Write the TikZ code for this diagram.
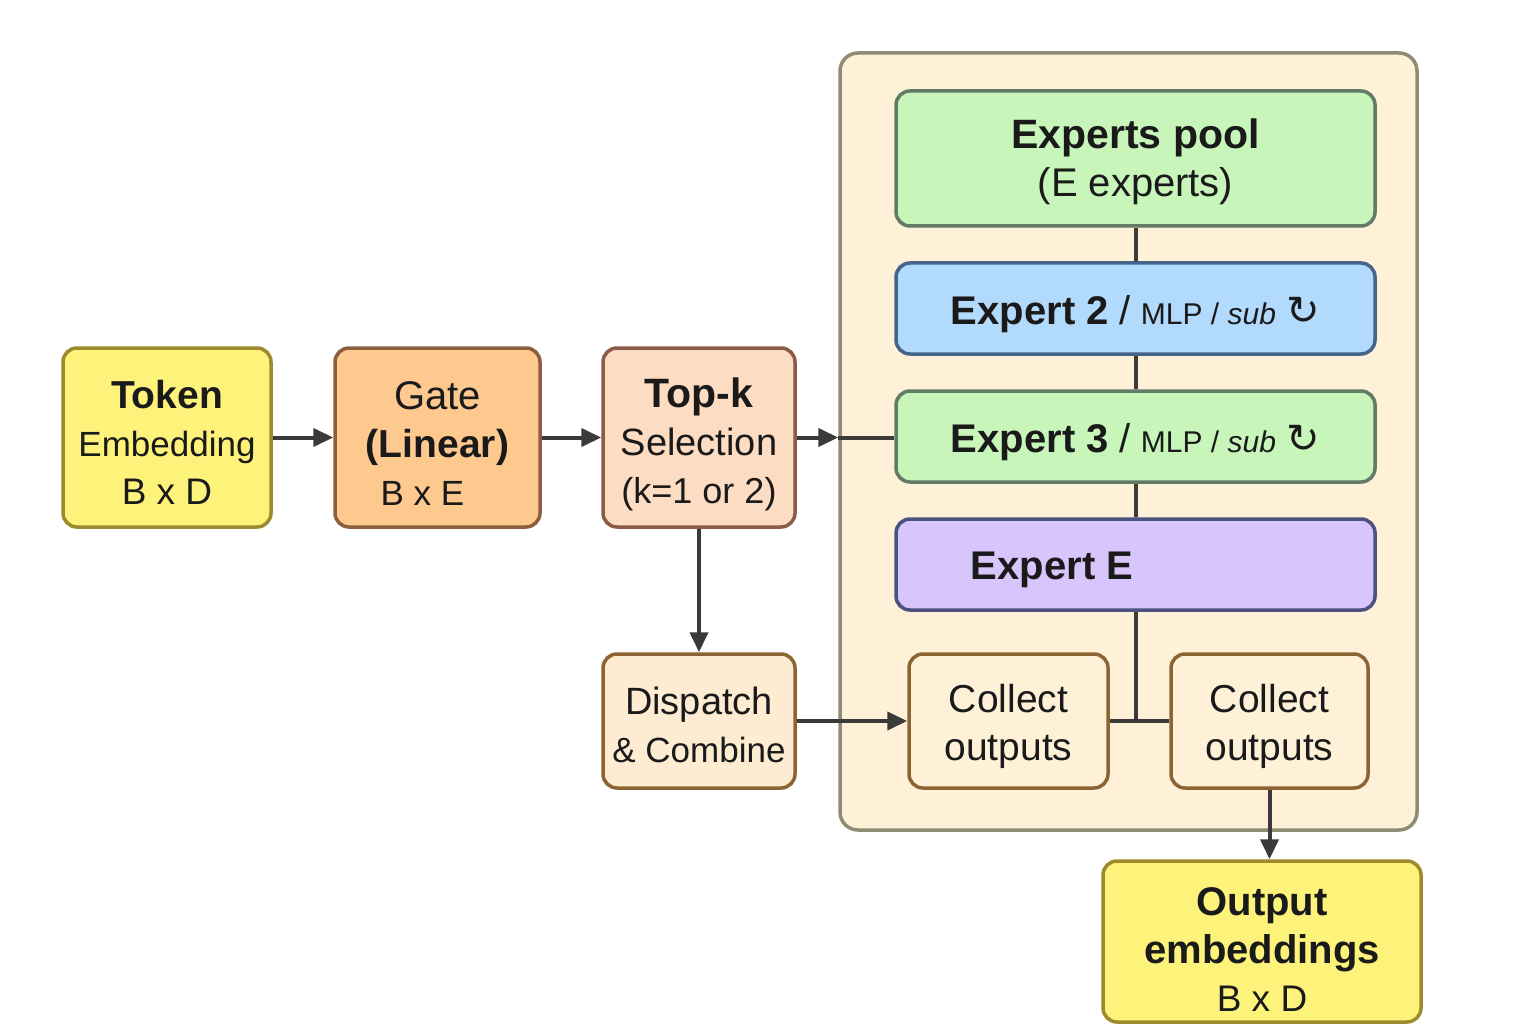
\documentclass[tikz,border=0pt]{standalone}
\usepackage{fontspec}
\setmainfont{Liberation Sans}
\newfontfamily\glyphfont{DejaVu Sans}
\usetikzlibrary{arrows.meta}
\definecolor{txt}{HTML}{1A1A1A}
\definecolor{linec}{HTML}{3A3A3A}
\definecolor{yelF}{HTML}{FEF37A}
\definecolor{yelD}{HTML}{9D8A2C}
\definecolor{oraF}{HTML}{FDC98F}
\definecolor{oraD}{HTML}{8C5E3E}
\definecolor{pchF}{HTML}{FCDCC3}
\definecolor{pchD}{HTML}{8C5A48}
\definecolor{crmF}{HTML}{FDEBD2}
\definecolor{crmD}{HTML}{8C6433}
\definecolor{conF}{HTML}{FEF1D8}
\definecolor{conD}{HTML}{8F8C74}
\definecolor{grnF}{HTML}{C7F5BA}
\definecolor{grnD}{HTML}{617B64}
\definecolor{bluF}{HTML}{B2DAFD}
\definecolor{bluD}{HTML}{46648A}
\definecolor{purF}{HTML}{D8C5FC}
\definecolor{purD}{HTML}{4C5280}
\newcommand{\lift}[1]{\rule{0pt}{#1}}
\begin{document}
\begin{tikzpicture}[x=1pt,y=-1pt,
  box/.style={draw, line width=3.5pt, rounded corners=14pt, inner sep=0pt, align=center, text=txt,
    font={\fontsize{38}{48}\selectfont}},
  wire/.style={draw=linec, line width=4pt},
  arr/.style={wire, -{Triangle[length=20pt,width=18pt]}}]
\useasboundingbox (0,0) rectangle (1536,1024);
\fill[white] (0,0) rectangle (1536,1024);

% container
\node[draw=conD, fill=conF, line width=3.5pt, rounded corners=18pt, minimum width=577pt, minimum height=777pt, inner sep=0pt] (cont) at (1128.5,441.5) {};

% left chain
\node[box, fill=yelF, draw=yelD, minimum width=208pt, minimum height=179pt] (tok) at (167,437.5)
  {{\bfseries\fontsize{39}{48}\selectfont\lift{38pt}Token}\\{\fontsize{35}{48}\selectfont Embedding}\\{\fontsize{37}{48}\selectfont B x D}};
\node[box, fill=oraF, draw=oraD, minimum width=205pt, minimum height=179pt] (gate) at (437.5,437.5)
  {{\fontsize{40}{48}\selectfont\lift{40pt}Gate}\\{\bfseries\fontsize{39}{48}\selectfont (Linear)}\\{\fontsize{35}{48}\selectfont B x E\kern30pt}};
\node[box, fill=pchF, draw=pchD, minimum width=192pt, minimum height=179pt] (topk) at (699,437.5)
  {{\bfseries\fontsize{41}{48}\selectfont\lift{44pt}Top-k}\\{\fontsize{38}{48}\selectfont Selection}\\{\fontsize{36}{48}\selectfont (k=1 or 2)}};
\node[box, fill=crmF, draw=crmD, minimum width=192pt, minimum height=134pt] (disp) at (699,721)
  {{\fontsize{38}{46}\selectfont\lift{36pt}Dispatch}\\{\fontsize{35}{46}\selectfont \& Combine}};

% experts
\node[box, fill=grnF, draw=grnD, minimum width=479pt, minimum height=135pt] (pool) at (1135.5,158.5)
  {{\bfseries\fontsize{41}{50}\selectfont\lift{37pt}Experts pool}\\{\fontsize{40}{50}\selectfont (E experts)}};
\node[box, fill=bluF, draw=bluD, minimum width=479pt, minimum height=91pt] (e2) at (1135.5,308.5)
  {{\bfseries\fontsize{40}{48}\selectfont\lift{40pt}Expert 2} {\fontsize{40}{48}\selectfont /} {\fontsize{30}{36}\selectfont MLP / \itshape sub} {\glyphfont\fontsize{40}{40}\selectfont ↻}};
\node[box, fill=grnF, draw=grnD, minimum width=479pt, minimum height=91pt] (e3) at (1135.5,436.5)
  {{\bfseries\fontsize{40}{48}\selectfont\lift{40pt}Expert 3} {\fontsize{40}{48}\selectfont /} {\fontsize{30}{36}\selectfont MLP / \itshape sub} {\glyphfont\fontsize{40}{40}\selectfont ↻}};
\node[box, fill=purF, draw=purD, minimum width=479pt, minimum height=91pt] (eE) at (1135.5,564.5) {};
\node[text=txt, font={\bfseries\fontsize{40}{48}\selectfont}, inner sep=0pt] (eEtxt) at (1052,570) {Expert E};

\node[box, fill=conF, draw=crmD, minimum width=199pt, minimum height=134pt] (c1) at (1008.5,721)
  {{\fontsize{39}{46}\selectfont\lift{40pt}Collect}\\{\fontsize{39}{46}\selectfont outputs}};
\node[box, fill=conF, draw=crmD, minimum width=197pt, minimum height=134pt] (c2) at (1269.5,721)
  {{\fontsize{39}{46}\selectfont\lift{40pt}Collect}\\{\fontsize{39}{46}\selectfont outputs}};

\node[box, fill=yelF, draw=yelD, minimum width=318pt, minimum height=161pt] (out) at (1262,941.5)
  {{\bfseries\fontsize{40}{48}\selectfont\lift{43pt}Output}\\{\bfseries\fontsize{40}{48}\selectfont embeddings}\\{\fontsize{37}{48}\selectfont B x D}};

% connectors
\draw[arr] (tok.east) -- (gate.west);
\draw[arr] (gate.east) -- (topk.west);
\coordinate (ein) at (cont.west |- topk.east);
\draw[wire] (ein) -- (e3.west |- ein);
\draw[arr] (topk.east) -- (ein);
\draw[arr] (topk.south) -- (disp.north);
\draw[arr] (disp.east) -- (c1.west);
\draw[wire] (pool.south) -- (e2.north);
\draw[wire] (e2.south) -- (e3.north);
\draw[wire] (e3.south) -- (eE.north);
\coordinate (junc) at (eE.south |- c1.east);
\draw[wire] (eE.south) -- (junc);
\draw[wire] (c1.east) -- (c2.west);
\draw[arr] (c2.south) -- (c2.south |- out.north);
\end{tikzpicture}
\end{document}
